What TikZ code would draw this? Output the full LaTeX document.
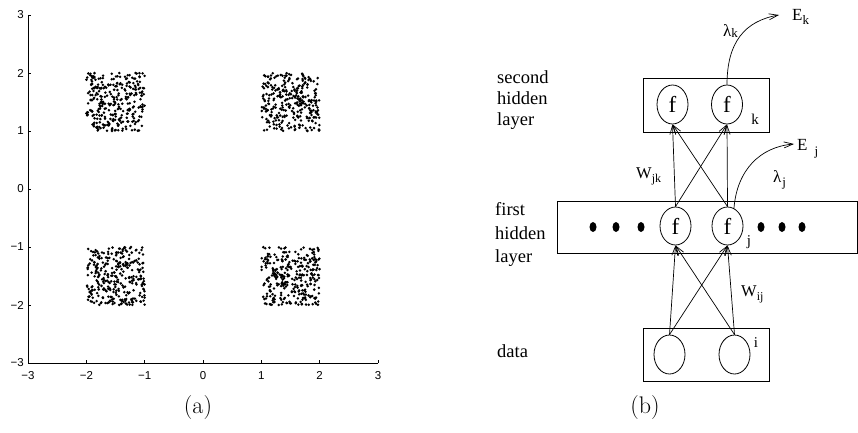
\documentclass[tikz,border=0pt]{standalone}
\usepackage{fontspec}
\newfontfamily\tnr{Liberation Serif}
\newfontfamily\hel{Liberation Sans}
\usetikzlibrary{shapes.geometric,arrows.meta}
\begin{document}
\begin{tikzpicture}[x=1pt,y=-1pt,
  axisline/.style={line width=0.8pt},
  boxn/.style={draw,line width=1pt,rectangle,inner sep=0pt},
  neuron/.style={draw,line width=0.8pt,ellipse,inner sep=0pt,minimum width=31pt,minimum height=39pt,font=\tnr\fontsize{23}{23}\selectfont},
  conn/.style={line width=0.7pt,-{Straight Barb[length=9pt,width=6pt]}},
  lay/.style={font=\tnr\fontsize{18.5}{21}\selectfont,align=left,anchor=west,inner sep=0pt},
  ticklab/.style={font=\hel\fontsize{11.5}{11.5}\selectfont,inner sep=0pt},
  capt/.style={font=\fontsize{24}{28}\selectfont,inner sep=0pt,anchor=base},
  sublab/.style={font=\tnr\fontsize{15}{15}\selectfont,inner sep=0pt},
  greek/.style={font=\tnr\fontsize{17}{17}\selectfont,inner sep=0pt,anchor=base west},
  bigdot/.style={fill,ellipse,inner sep=0pt,minimum width=7pt,minimum height=10pt}
]
\useasboundingbox (0,0) rectangle (858,433);

% ---------- (a) scatter plot ----------
\draw[axisline] (28,15) -- (28,363) -- (378,363);
\foreach \v/\t [count=\n] in {-3/−3,-2/−2,-1/−1,0/0,1/1,2/2,3/3} {
  \draw[axisline] ({203+\v*58.33},363) -- ({203+\v*58.33},360);
  \draw[axisline] (28,{189-\v*58}) -- (31,{189-\v*58});
  \node[ticklab,anchor=north] (xt\n) at ({203+\v*58.33},371) {\t};
  \node[ticklab,anchor=east] (yt\n) at (24,{189-\v*58}) {\t};
}
\pgfmathsetseed{7}
\foreach \cx/\cy in {-1.5/1.5,1.5/1.5,-1.5/-1.5,1.5/-1.5}{
  \foreach \i in {1,...,300}{
    \fill ({203+(\cx+0.5*rand)*58.33},{189-(\cy+0.5*rand)*58}) circle (1.4);
  }
}
\node[capt] (capa) at (198,413) {(a)};

% ---------- (b) network ----------
\node[boxn,minimum width=126pt,minimum height=53pt] (L2) at (706,105.5) {};
\node[boxn,minimum width=300pt,minimum height=52pt] (L1) at (707,227) {};
\node[boxn,minimum width=126pt,minimum height=53pt] (L0) at (706,354.5) {};

\node[neuron] (s1) at (672.5,104.5) {f};
\node[neuron] (s2) at (727,104.5) {f};
\node[neuron,minimum height=38pt] (h1) at (675.5,226) {f};
\node[neuron,minimum height=38pt] (h2) at (727.5,226) {f};
\node[neuron] (d1) at (669.5,354.5) {};
\node[neuron] (d2) at (734.5,354.5) {};

\foreach \p [count=\n] in {593,616,641,761,782,802}
  \node[bigdot] (dot\n) at (\p,227) {};

\node[sublab] (lk) at (755,119) {k};
\node[sublab] (lj) at (749,242) {j};
\node[sublab] (li) at (756,343) {i};

\foreach \a in {h1,h2}{
  \draw[conn] (\a.north) -- (s1.south);
  \draw[conn] (\a.north) -- (s2.south);
}
\foreach \a in {d1,d2}{
  \draw[conn] (\a.north) -- (h1.south);
  \draw[conn] (\a.north) -- (h2.south);
}

\coordinate (ektip) at (779,15);
\coordinate (ejtip) at (794,144);
\draw[conn] (s2.north) .. controls (727,42) and (745,21) .. (ektip);
\draw[conn] (h2.70) .. controls (737,170) and (760,147) .. (ejtip);

\node[greek] (Ek) at (792,21) {E\raisebox{-4pt}{\fontsize{13}{13}\selectfont k}};
\node[greek] (Ej) at (797,150) {E\hspace{7pt}\raisebox{-5pt}{\fontsize{13}{13}\selectfont j}};
\node[greek] (lamk) at (723,37) {λ\raisebox{-1pt}{\fontsize{13}{13}\selectfont k}};
\node[greek] (lamj) at (773,182) {λ\hspace{1pt}\raisebox{-4pt}{\fontsize{13}{13}\selectfont j}};
\node[greek,font=\tnr\fontsize{16.5}{16.5}\selectfont] (wjk) at (636,178) {W\raisebox{-4pt}{\fontsize{12}{12}\selectfont jk}};
\node[greek,font=\tnr\fontsize{16.5}{16.5}\selectfont] (wij) at (741,296) {W\raisebox{-4pt}{\fontsize{12}{12}\selectfont ij}};

\node[lay] (t2) at (497,100) {second\\hidden\\layer};
\node[lay,font=\tnr\fontsize{18.5}{23.5}\selectfont] (t1) at (495,234.5) {first\\hidden\\layer};
\node[lay,anchor=base west] (t0) at (497,357) {data};

\node[capt] (capb) at (645,413) {(b)};
\end{tikzpicture}
\end{document}
